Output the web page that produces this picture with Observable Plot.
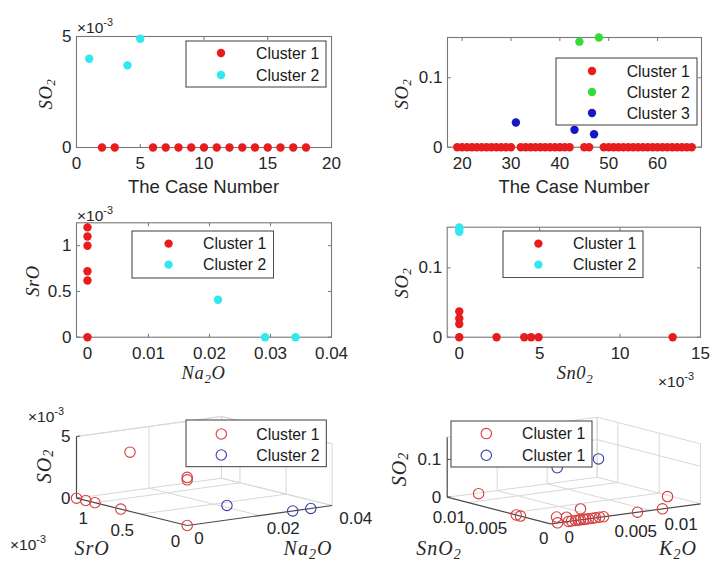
<!DOCTYPE html>
<html><head><meta charset="utf-8">
<script src="https://cdn.jsdelivr.net/npm/d3@7"></script>
<script src="https://cdn.jsdelivr.net/npm/@observablehq/plot@0.6"></script>
<style>
body{margin:0;background:#fff;}
#root{position:relative;width:711px;height:563px;overflow:hidden;background:#fff;}
#root > svg{position:absolute;left:0;top:0;}
</style></head><body><div id="root"></div>
<script>
// ---------------- DATA ----------------
// (a) SO2 vs case number, cases 1-18
const aCaseC1 = [2,3,6,7,8,9,10,11,12,13,14,15,16,17,18];
const aSO2C1  = [0,0,0,0,0,0,0,0,0,0,0,0,0,0,0];
const aCaseC2 = [1,4,5];
const aSO2C2  = [0.0040,0.0037,0.0049];
const aXTicks = [0,5,10,15,20];
const aXLabels = ["0","5","10","15","20"];
const aYTicks = [0,0.005];
const aYLabels = ["0","5"];

// (b) SO2 vs case number, cases 19-67
const bCaseC1 = [19,20,21,22,23,24,25,26,27,28,29,30,32,33,34,35,36,37,38,39,40,41,42,45,46,49,50,51,52,53,54,55,56,57,58,59,60,61,62,63,64,65,66,67];
const bSO2C1  = [0,0,0,0,0,0,0,0,0,0,0,0,0,0,0,0,0,0,0,0,0,0,0,0,0,0,0,0,0,0,0,0,0,0,0,0,0,0,0,0,0,0,0,0];
const bCaseC2 = [44,48];
const bSO2C2  = [0.152,0.158];
const bCaseC3 = [31,43,47];
const bSO2C3  = [0.0356,0.025,0.0187];
const bXTicks = [20,30,40,50,60];
const bXLabels = ["20","30","40","50","60"];
const bYTicks = [0,0.1];
const bYLabels = ["0","0.1"];

// (c) SrO vs Na2O
const cNa2OC1 = [0,0,0,0,0,0];
const cSrOC1  = [0.0012,0.0011,0.0010,0.00072,0.00062,0];
const cNa2OC2 = [0.0214,0.0291,0.0341];
const cSrOC2  = [0.00041,0,0];
const cXTicks = [0,0.01,0.02,0.03,0.04];
const cXLabels = ["0","0.01","0.02","0.03","0.04"];
const cYTicks = [0,0.0005,0.001];
const cYLabels = ["0","0.5","1"];

// (d) SO2 vs SnO2
const dSnO2C1 = [0,0,0,0,0.00232,0.00404,0.00447,0.00493,0.01327];
const dSO2C1  = [0.037,0.027,0.019,0,0,0,0,0,0];
const dSnO2C2 = [0,0,0];
const dSO2C2  = [0.152,0.155,0.158];
const dXTicks = [0,0.005,0.01,0.015];
const dXLabels = ["0","5","10","15"];
const dYTicks = [0,0.1];
const dYLabels = ["0","0.1"];

// (e) 3-D: SrO, Na2O, SO2
const eSrOC1  = [0.0012,0.0011,0.0010,0.00072,0,0.00062,0,0];
const eNa2OC1 = [0,0,0,0,0,0,0,0];
const eSO2C1  = [0,0,0,0,0,0.0048,0.0039,0.0037];
const eSrOC2  = [0.00041,0,0];
const eNa2OC2 = [0.0214,0.0291,0.0341];
const eSO2C2  = [0,0,0];
const eSrOTicks = [0,0.0005,0.001];   const eSrOLabels = ["0","0.5","1"];
const eNa2OTicks = [0,0.02,0.04];     const eNa2OLabels = ["0","0.02","0.04"];
const eSO2Ticks = [0,0.005];          const eSO2Labels = ["0","5"];

// (f) 3-D: SnO2, K2O, SO2
const fSnO2C1 = [0.0087,0.00415,0.00363,0,0,0,0,0,0,0,0,0,0,0,0,0,0,0,0,0,0,0];
const fK2OC1  = [0,0,0,0.0006,0.0007,0.0016,0.0030,0.0018,0.0021,0.0025,0.0028,0.0030,0.0033,0.0035,0.0038,0.0042,0.0045,0.0049,0.0053,0.0087,0.0112,0.0117];
const fSO2C1  = [0.031,0,0,0.016,0,0.012,0.029,0,0,0,0,0,0,0,0,0,0,0,0,0,0,0.031];
const fSnO2C2 = [0,0];
const fK2OC2  = [0.00067,0.0048];
const fSO2C2  = [0.147,0.156];
const fSnO2Ticks = [0,0.005,0.01];    const fSnO2Labels = ["0","0.005","0.01"];
const fK2OTicks = [0,0.005,0.01];     const fK2OLabels = ["0","0.005","0.01"];
const fSO2Ticks = [0,0.1];            const fSO2Labels = ["0","0.1"];

const legendA = ["Cluster 1","Cluster 2"];
const legendB = ["Cluster 1","Cluster 2","Cluster 3"];
const legendC = ["Cluster 1","Cluster 2"];
const legendD = ["Cluster 1","Cluster 2"];
const legendE = ["Cluster 1","Cluster 2"];
const legendF = ["Cluster 1","Cluster 1"];

// ---------------- STYLE ----------------
const W = 711, H = 563;
const AX = "#787878", TXT = "#262626";
const SANS = "'Liberation Sans', Arial, sans-serif";
const SERIF = "'Liberation Serif', 'Times New Roman', serif";
const RED = "#e81c1c", CYAN = "#30e8ef", GREEN = "#36dc36", BLUE = "#1616c4";
const RED_O = "#d83c3c", BLUE_O = "#3c3cab";
const TICKFS = 17;
const root = document.getElementById("root");

function panel2D({frame, xDomain, yDomain, xTicks, xLabels, yTicks, yLabels, series}) {
  const [L, R, T, B] = frame;
  const tl = 3.5;
  const dxu = (xDomain[1] - xDomain[0]) * tl / (R - L);
  const dyu = (yDomain[1] - yDomain[0]) * tl / (B - T);
  const xt = xTicks.map((v, i) => ({v, s: xLabels[i]}));
  const yt = yTicks.map((v, i) => ({v, s: yLabels[i]}));
  const marks = [
    Plot.link(xTicks, {x1: d => d, x2: d => d, y1: yDomain[0], y2: yDomain[0] + dyu, stroke: AX}),
    Plot.link(xTicks, {x1: d => d, x2: d => d, y1: yDomain[1], y2: yDomain[1] - dyu, stroke: AX}),
    Plot.link(yTicks, {y1: d => d, y2: d => d, x1: xDomain[0], x2: xDomain[0] + dxu, stroke: AX}),
    Plot.link(yTicks, {y1: d => d, y2: d => d, x1: xDomain[1], x2: xDomain[1] - dxu, stroke: AX}),
    Plot.frame({stroke: AX, strokeWidth: 1.1}),
    Plot.text(xt, {x: "v", y: yDomain[0], text: "s", dy: 16.5, fill: TXT, fontSize: TICKFS}),
    Plot.text(yt, {x: xDomain[0], y: "v", text: "s", dx: -5, textAnchor: "end", fill: TXT, fontSize: TICKFS}),
    ...series.map(s => Plot.dot(s.x.map((x, i) => ({x, y: s.y[i]})), {x: "x", y: "y", r: 4.2, fill: s.color, stroke: null}))
  ];
  const svg = Plot.plot({
    width: W, height: H,
    marginLeft: L, marginRight: W - R, marginTop: T, marginBottom: H - B,
    x: {domain: xDomain, axis: null},
    y: {domain: yDomain, axis: null},
    style: {background: "transparent", fontFamily: SANS, overflow: "visible"},
    marks
  });
  root.appendChild(svg);
}

function project(view, a, b, c) {
  const fa = a / view.max[0], fb = b / view.max[1], fc = c / view.max[2];
  return [view.o[0] + fa * view.ea[0] + fb * view.eb[0] + fc * view.ec[0],
          view.o[1] + fa * view.ea[1] + fb * view.eb[1] + fc * view.ec[1]];
}
function seg(view, p, q) {
  const P = project(view, ...p), Q = project(view, ...q);
  return {x1: P[0], y1: P[1], x2: Q[0], y2: Q[1]};
}
function panel3D({view, ticks, labels, lab, series}) {
  const [A, Bm, C] = view.max;
  const [aT, bT, cT] = ticks;
  const grid = [];
  for (const t of aT) if (t > 0) grid.push(seg(view, [t, 0, 0], [t, Bm, 0]));
  for (const t of bT) if (t > 0) grid.push(seg(view, [0, t, 0], [A, t, 0]));
  grid.push(seg(view, [A, 0, 0], [A, Bm, 0]), seg(view, [0, Bm, 0], [A, Bm, 0]));
  for (const t of [...bT, Bm]) if (t > 0) grid.push(seg(view, [A, t, 0], [A, t, C]));
  for (const t of [...cT, C]) if (t > 0) grid.push(seg(view, [A, 0, t], [A, Bm, t]));
  for (const t of [...aT, A]) grid.push(seg(view, [t, Bm, 0], [t, Bm, C]));
  for (const t of [...cT, C]) if (t > 0) grid.push(seg(view, [0, Bm, t], [A, Bm, t]));
  const axes = [seg(view, [A, 0, 0], [A, 0, C]), seg(view, [0, 0, 0], [A, 0, 0]), seg(view, [0, 0, 0], [0, Bm, 0])];
  const zt = cT.map(t => seg(view, [A, 0, t], [A, Bm * 0.022, t]));
  const la = aT.map((t, i) => { const p = project(view, t, 0, 0); return {x: p[0], y: p[1], s: labels[0][i]}; });
  const lb = bT.map((t, i) => { const p = project(view, 0, t, 0); return {x: p[0], y: p[1], s: labels[1][i]}; });
  const lc = cT.map((t, i) => { const p = project(view, A, 0, t); return {x: p[0], y: p[1], s: labels[2][i]}; });
  const marks = [
    Plot.link(grid, {x1: "x1", y1: "y1", x2: "x2", y2: "y2", stroke: "#d8d8d8", strokeWidth: 1}),
    Plot.link(axes, {x1: "x1", y1: "y1", x2: "x2", y2: "y2", stroke: "#4a4a4a", strokeWidth: 1.2}),
    Plot.link(zt, {x1: "x1", y1: "y1", x2: "x2", y2: "y2", stroke: "#4a4a4a", strokeWidth: 1}),
    Plot.text(la, {x: "x", y: "y", text: "s", dx: lab.a[0], dy: lab.a[1], textAnchor: "end", fill: TXT, fontSize: TICKFS}),
    Plot.text(lb, {x: "x", y: "y", text: "s", dx: lab.b[0], dy: lab.b[1], textAnchor: "start", fill: TXT, fontSize: TICKFS}),
    Plot.text(lc, {x: "x", y: "y", text: "s", dx: lab.c[0], dy: lab.c[1], textAnchor: "end", fill: TXT, fontSize: TICKFS}),
    ...series.map(s => Plot.dot(s.a.map((a, i) => {
      const p = project(view, a, s.b[i], s.c[i]); return {x: p[0], y: p[1]};
    }), {x: "x", y: "y", r: 5.2, fill: "none", stroke: s.color, strokeWidth: 1.1}))
  ];
  const svg = Plot.plot({
    width: W, height: H, margin: 0,
    x: {domain: [0, W], range: [0, W], axis: null},
    y: {domain: [0, H], range: [0, H], axis: null},
    style: {background: "transparent", fontFamily: SANS, overflow: "visible"},
    marks
  });
  root.appendChild(svg);
}

// ---------------- PANELS ----------------
panel2D({frame: [76, 331, 36, 147], xDomain: [0, 20], yDomain: [0, 0.005],
  xTicks: aXTicks, xLabels: aXLabels, yTicks: aYTicks, yLabels: aYLabels,
  series: [{x: aCaseC1, y: aSO2C1, color: RED}, {x: aCaseC2, y: aSO2C2, color: CYAN}]});
panel2D({frame: [447, 701, 37, 146.7], xDomain: [17, 69], yDomain: [0, 0.158],
  xTicks: bXTicks, xLabels: bXLabels, yTicks: bYTicks, yLabels: bYLabels,
  series: [{x: bCaseC1, y: bSO2C1, color: RED}, {x: bCaseC2, y: bSO2C2, color: GREEN}, {x: bCaseC3, y: bSO2C3, color: BLUE}]});
panel2D({frame: [76, 331, 222.3, 336.7], xDomain: [-0.0018, 0.04], yDomain: [0, 0.00125],
  xTicks: cXTicks, xLabels: cXLabels, yTicks: cYTicks, yLabels: cYLabels,
  series: [{x: cNa2OC1, y: cSrOC1, color: RED}, {x: cNa2OC2, y: cSrOC2, color: CYAN}]});
panel2D({frame: [446.7, 700, 226.7, 336.7], xDomain: [-0.00075, 0.015], yDomain: [0, 0.1585],
  xTicks: dXTicks, xLabels: dXLabels, yTicks: dYTicks, yLabels: dYLabels,
  series: [{x: dSnO2C1, y: dSO2C1, color: RED}, {x: dSnO2C2, y: dSO2C2, color: CYAN}]});

panel3D({view: {o: [186.7, 525], ea: [-110.7, -27.3], eb: [145, -20], ec: [0, -61.7], max: [0.0012, 0.04, 0.005]},
  ticks: [eSrOTicks, eNa2OTicks, eSO2Ticks], labels: [eSrOLabels, eNa2OLabels, eSO2Labels],
  lab: {a: [-7, 16], b: [7, 13], c: [-6, 0]},
  series: [{a: eSrOC1, b: eNa2OC1, c: eSO2C1, color: RED_O}, {a: eSrOC2, b: eNa2OC2, c: eSO2C2, color: BLUE_O}]});
panel3D({view: {o: [550, 523.3], ea: [-103.3, -26.6], eb: [150, -20], ec: [0, -60], max: [0.0125, 0.015, 0.16]},
  ticks: [fSnO2Ticks, fK2OTicks, fSO2Ticks], labels: [fSnO2Labels, fK2OLabels, fSO2Labels],
  lab: {a: [-2, 15], b: [14, 14], c: [-6, 0]},
  series: [{a: fSnO2C1, b: fK2OC1, c: fSO2C1, color: RED_O}, {a: fSnO2C2, b: fK2OC2, c: fSO2C2, color: BLUE_O}]});

// ---------------- TEXT LABELS ----------------
const ov = d3.select(root).append("svg").attr("width", W).attr("height", H);
function rich(x, y, parts, o) {
  const t = ov.append("text").attr("x", x).attr("y", y)
    .attr("font-family", o.family).attr("font-size", o.size)
    .attr("font-style", o.italic ? "italic" : null)
    .attr("letter-spacing", o.ls || null)
    .attr("text-anchor", o.anchor || "start").attr("fill", TXT);
  if (o.rotate) t.attr("transform", `rotate(${o.rotate},${x},${y})`);
  if (o.baseline) t.attr("dominant-baseline", o.baseline);
  let shift = 0;
  for (const p of parts) {
    const s = p.sub ? o.size * 0.22 : p.sup ? -o.size * 0.45 : 0;
    const sp = t.append("tspan").text(p.t).attr("dy", s - shift);
    if (p.sub || p.sup) sp.attr("font-size", o.size * 0.7);
    shift = s;
  }
}
const SO2 = [{t: "SO"}, {t: "2", sub: true}];
const EXP = [{t: "×10"}, {t: "-3", sup: true}];
const m2 = {family: SERIF, size: 18.5, italic: true, ls: 0.6};
const m3 = {family: SERIF, size: 20, italic: true, ls: 1};
const ex = {family: SANS, size: 15.5};
// (a)
rich(77, 33, EXP, ex);
rich(203.5, 193, [{t: "The Case Number"}], {family: SANS, size: 18.5, anchor: "middle"});
rich(46, 94, SO2, {...m2, rotate: -90, anchor: "middle", baseline: "central"});
// (b)
rich(574, 193, [{t: "The Case Number"}], {family: SANS, size: 18.5, anchor: "middle"});
rich(402, 94, SO2, {...m2, rotate: -90, anchor: "middle", baseline: "central"});
// (c)
rich(77, 221, EXP, ex);
rich(33, 281, [{t: "SrO"}], {...m2, rotate: -90, anchor: "middle", baseline: "central"});
rich(203.5, 379, [{t: "Na"}, {t: "2", sub: true}, {t: "O"}], {...m2, anchor: "middle"});
// (d)
rich(402, 283, SO2, {...m2, rotate: -90, anchor: "middle", baseline: "central"});
rich(575, 379, [{t: "Sn0"}, {t: "2", sub: true}], {...m2, anchor: "middle"});
rich(658, 387, EXP, ex);
// (e)
rich(28, 422, EXP, ex);
rich(10, 550, EXP, ex);
rich(44, 466, SO2, {...m3, rotate: -90, anchor: "middle", baseline: "central"});
rich(92, 555, [{t: "SrO"}], {...m3, anchor: "middle"});
rich(308, 555, [{t: "Na"}, {t: "2", sub: true}, {t: "O"}], {...m3, anchor: "middle"});
// (f)
rich(399, 469, SO2, {...m3, rotate: -90, anchor: "middle", baseline: "central"});
rich(439, 555, [{t: "SnO"}, {t: "2", sub: true}], {...m3, anchor: "middle"});
rich(678, 555, [{t: "K"}, {t: "2", sub: true}, {t: "O"}], {...m3, anchor: "middle"});

// ---------------- LEGENDS ----------------
function legend({left, top, width, height, mx, tx, rows, labels, colors, open}) {
  const g = d3.select(root).append("svg").attr("width", width + 2).attr("height", height + 2)
    .style("left", (left - 1) + "px").style("top", (top - 1) + "px");
  g.append("rect").attr("x", 1).attr("y", 1).attr("width", width).attr("height", height)
    .attr("fill", "#fff").attr("stroke", "#3c3c3c").attr("stroke-width", 1);
  labels.forEach((lb, i) => {
    const c = g.append("circle").attr("cx", 1 + mx).attr("cy", 1 + rows[i]).attr("r", open ? 5.2 : 4.2);
    if (open) c.attr("fill", "none").attr("stroke", colors[i]).attr("stroke-width", 1.1);
    else c.attr("fill", colors[i]);
    g.append("text").attr("x", 1 + tx).attr("y", 1 + rows[i]).attr("dominant-baseline", "central")
      .attr("font-family", SANS).attr("font-size", 15.8).attr("fill", "#1a1a1a").text(lb);
  });
}
legend({left: 186, top: 41, width: 140, height: 46, mx: 35, tx: 70, rows: [12, 34], labels: legendA, colors: [RED, CYAN]});
legend({left: 556, top: 58.3, width: 141, height: 67, mx: 36, tx: 70.7, rows: [13, 34, 55], labels: legendB, colors: [RED, GREEN, BLUE]});
legend({left: 131.7, top: 230.7, width: 141.6, height: 47, mx: 36.6, tx: 71, rows: [12.6, 33.6], labels: legendC, colors: [RED, CYAN]});
legend({left: 503.3, top: 230.7, width: 140, height: 46.6, mx: 35.4, tx: 70, rows: [12.6, 33.6], labels: legendD, colors: [RED, CYAN]});
legend({left: 185.7, top: 420, width: 140.3, height: 46.7, mx: 35.3, tx: 70.3, rows: [14, 35], labels: legendE, colors: [RED_O, BLUE_O], open: true});
legend({left: 450.7, top: 420.7, width: 141, height: 46, mx: 35.3, tx: 71, rows: [12.6, 34.3], labels: legendF, colors: [RED_O, BLUE_O], open: true});
</script></body></html>
